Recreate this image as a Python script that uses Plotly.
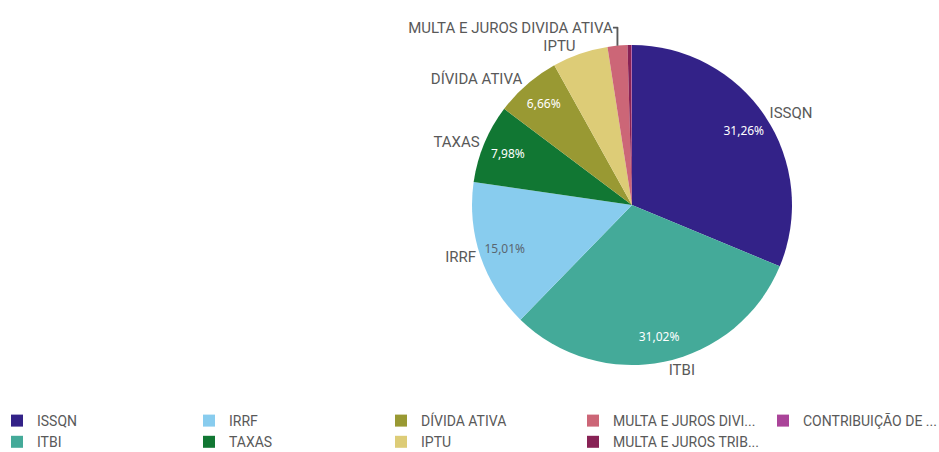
import plotly.graph_objects as go

# slices, clockwise from 12 o'clock
labels = ["ISSQN", "ITBI", "IRRF", "TAXAS", "DÍVIDA ATIVA", "IPTU",
          "MULTA E JUROS DIVI...", "MULTA E JUROS TRIB...", "CONTRIBUIÇÃO DE ..."]
slice_names = ["ISSQN", "ITBI", "IRRF", "TAXAS", "DÍVIDA ATIVA", "IPTU",
               "MULTA E JUROS DIVIDA ATIVA", "", ""]
values = [31.26, 31.02, 15.01, 7.98, 6.66, 5.62, 2.00, 0.38, 0.07]
colors = ["#332288", "#44AA99", "#88CCEE", "#117733", "#999933", "#DDCC77",
          "#CC6677", "#882255", "#AA4499"]
show_pct = [True, True, True, True, True, False, False, False, False]
pct_color = ["white", "white", "#5a6670", "white", "white", "#595959",
             "#595959", "white", "white"]

# legend columns (slice indexes)
legend_cols = [[0, 1], [2, 3], [4, 5], [6, 7], [8]]

FONT = "Roboto, sans-serif"
GREY = "#595959"
W, H = 939, 452

cx, cy, r = 632, 205, 160
dom = dict(x=[(cx - r) / W, (cx + r) / W], y=[1 - (cy + r) / H, 1 - (cy - r) / H])
clear = ["rgba(0,0,0,0)"] * len(labels)

fig = go.Figure()

fig.add_trace(go.Pie(
    labels=labels, values=values, sort=False, direction="clockwise",
    domain=dom, marker=dict(colors=colors, line=dict(width=0)),
    textinfo="none", showlegend=False, hoverinfo="skip",
))

# percentages sit in the outer ring of the pie
fig.add_trace(go.Pie(
    labels=labels, values=values, sort=False, direction="clockwise",
    domain=dom, hole=0.68, marker=dict(colors=clear, line=dict(width=0)),
    texttemplate=["%{percent:.2%}" if s else "" for s in show_pct],
    textposition="inside", insidetextorientation="horizontal",
    insidetextfont=dict(family="Noto Sans, sans-serif", size=12, color=pct_color),
    showlegend=False, hoverinfo="skip",
))

fig.add_trace(go.Pie(
    labels=labels, values=values, sort=False, direction="clockwise",
    domain=dom, marker=dict(colors=clear, line=dict(width=0)),
    text=slice_names, texttemplate="%{text}", textposition="outside",
    outsidetextfont=dict(family=FONT, size=15, color=GREY),
    showlegend=False, hoverinfo="skip",
))

col_x = [-3, 189, 381, 573, 763]
legends = {}
for c, idxs in enumerate(legend_cols):
    key = "legend" if c == 0 else f"legend{c + 1}"
    for i in idxs:
        fig.add_trace(go.Scatter(
            x=[None], y=[None], mode="markers", name=labels[i],
            legend=key, legendgroup=labels[i],
            marker=dict(symbol="square", size=12, color=colors[i]),
        ))
    legends[key] = dict(
        orientation="v", x=col_x[c] / W, y=1 - 405 / H,
        xanchor="left", yanchor="top", bgcolor="rgba(0,0,0,0)",
        traceorder="grouped", tracegroupgap=0,
        font=dict(family=FONT, size=14, color=GREY),
    )

fig.update_layout(
    width=W, height=H,
    margin=dict(l=0, r=0, t=0, b=0, autoexpand=False),
    paper_bgcolor="white", plot_bgcolor="white",
    separators=",.",
    font=dict(family=FONT, size=13, color=GREY),
    xaxis=dict(visible=False), yaxis=dict(visible=False),
    **legends,
)

fig.write_html("out.html", config={"displayModeBar": False},
               post_script="document.body.style.margin='0';")
